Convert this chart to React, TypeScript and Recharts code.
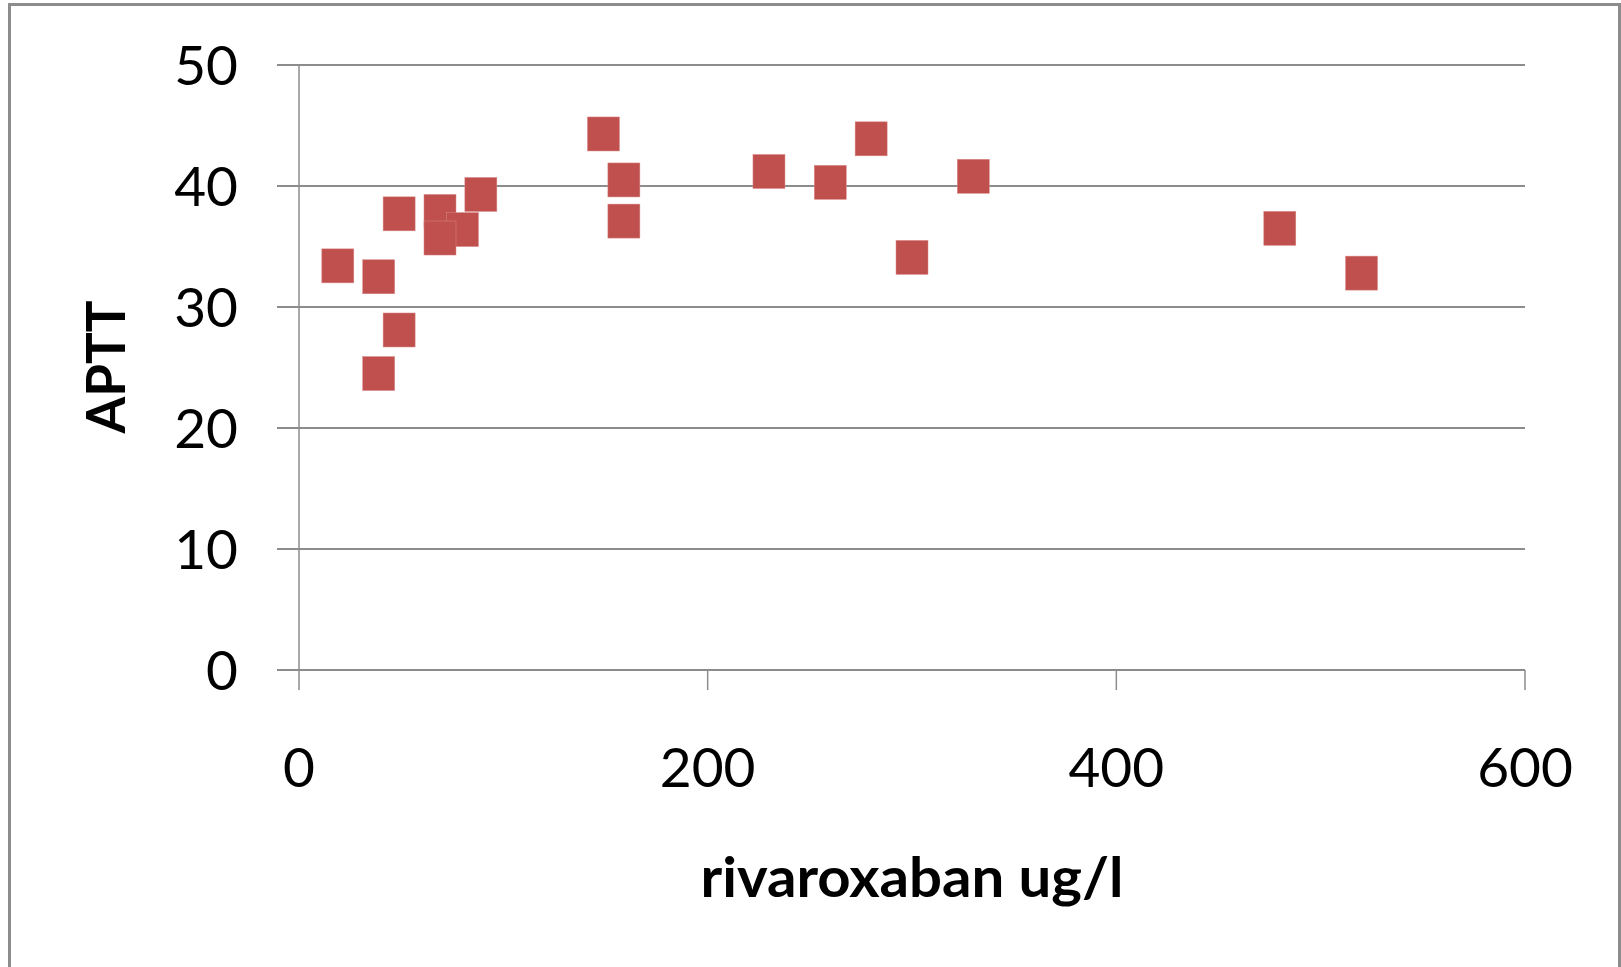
import { ScatterChart, Scatter, XAxis, YAxis, CartesianGrid, Label } from 'recharts';

// rivaroxaban concentration (ug/l) vs APTT (s)
const rivaroxaban = [19, 39, 39, 49, 49, 69, 80, 69, 89, 149, 159, 159, 230, 260, 280, 300, 330, 480, 520];
const aptt = [33.4, 32.5, 24.5, 37.7, 28.1, 37.9, 36.4, 35.7, 39.3, 44.3, 40.5, 37.1, 41.2, 40.3, 43.9, 34.1, 40.8, 36.5, 32.8];

const xTicks = [0, 200, 400, 600];
const yTicks = [0, 10, 20, 30, 40, 50];

const points = rivaroxaban.map((x, i) => ({ x, y: aptt[i] }));

const GRID = '#8c8c8c';
const RED = '#C0504D';
const FONT = 'Lato, "Open Sans", sans-serif';

// Excel-style square marker
function SquareMarker(props: any) {
    const { cx, cy } = props;
    if (cx == null || cy == null) return null;
    return <rect x={cx - 16} y={cy - 17} width={32} height={34} fill={RED} stroke="#d98a88" strokeWidth={0.5} />;
}

export default function App() {
    const tickStyle = { fontSize: 55, fill: '#000', fontFamily: FONT };
    return (
        <div style={{ position: 'absolute', left: 0, top: 0, width: 1621, height: 967, overflow: 'hidden', background: '#fff' }}>
            <div style={{ position: 'absolute', left: 8, top: 3, width: 1607, height: 1000, border: `3px solid ${GRID}` }} />
            <div style={{ position: 'absolute', left: 0, top: 0 }}>
                <ScatterChart width={1621} height={967} margin={{ top: 65, right: 96, left: 0, bottom: 0 }}>
                    <CartesianGrid vertical={false} stroke={GRID} strokeWidth={2} />
                    <XAxis
                        type="number"
                        dataKey="x"
                        domain={[0, 600]}
                        ticks={xTicks}
                        height={297}
                        tickSize={20}
                        tickMargin={58}
                        tick={tickStyle}
                        stroke={GRID}
                        strokeWidth={2}
                        tickLine={{ stroke: GRID, strokeWidth: 1.5 }}
                    >
                        <Label
                            content={() => (
                                <text x={912} y={897} textAnchor="middle" fontFamily={FONT} fontWeight={700} fontSize={56} fill="#000" textLength={423} lengthAdjust="spacingAndGlyphs">
                                    rivaroxaban ug/l
                                </text>
                            )}
                        />
                    </XAxis>
                    <YAxis
                        type="number"
                        dataKey="y"
                        domain={[0, 50]}
                        ticks={yTicks}
                        width={299}
                        tickSize={22}
                        tickMargin={39}
                        tick={tickStyle}
                        stroke={GRID}
                        strokeWidth={1.5}
                        tickLine={{ stroke: GRID, strokeWidth: 2 }}
                    >
                        <Label
                            content={() => (
                                <text x={125} y={367} transform="rotate(-90 125 367)" textAnchor="middle" fontFamily={FONT} fontWeight={700} fontSize={53} fill="#000">
                                    APTT
                                </text>
                            )}
                        />
                    </YAxis>
                    <Scatter data={points} shape={<SquareMarker />} isAnimationActive={false} />
                </ScatterChart>
            </div>
        </div>
    );
}
